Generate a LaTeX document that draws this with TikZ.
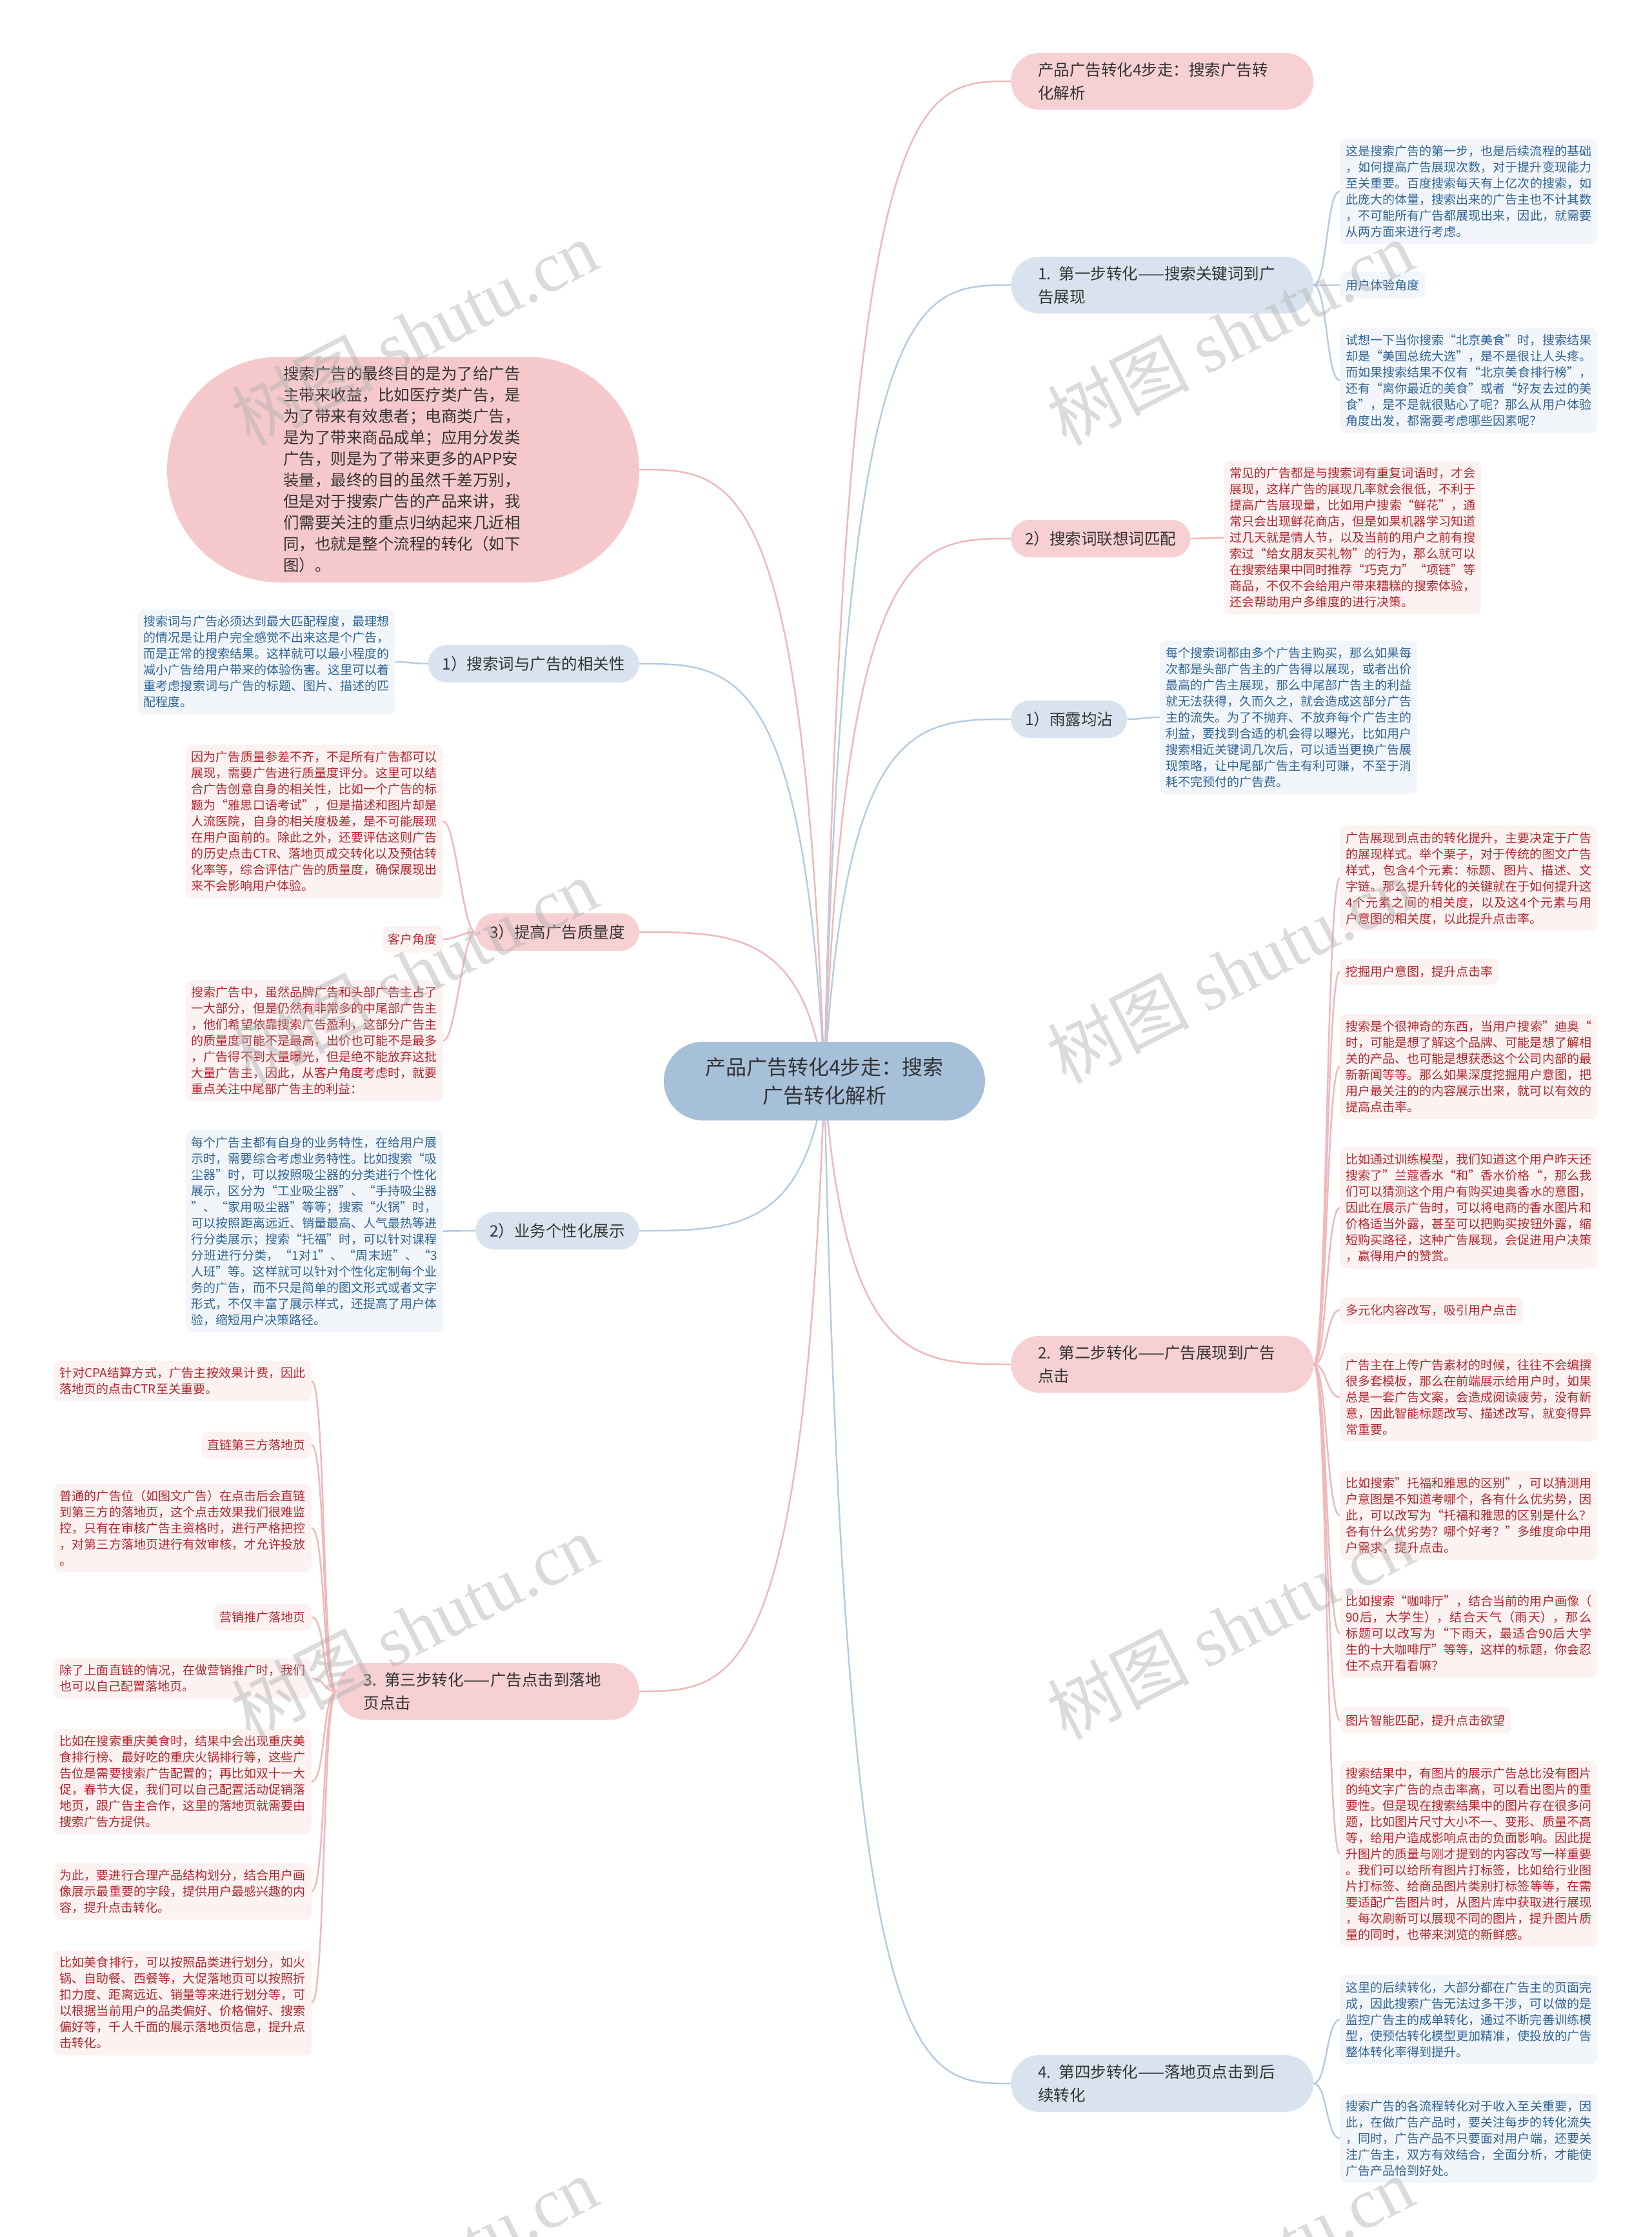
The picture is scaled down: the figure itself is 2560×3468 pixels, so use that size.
\documentclass[tikz,border=0pt]{standalone}
\usepackage{fontspec}
\setmainfont{Noto Sans CJK SC}
\newfontfamily\wmfont{Liberation Serif}
\usetikzlibrary{backgrounds}
\XeTeXlinebreaklocale "zh"
\XeTeXlinebreakskip=0pt plus 3pt
\tolerance=9500
\hbadness=10000
\hfuzz=20pt
\definecolor{cRoot}{HTML}{A6C0DA}
\definecolor{cPinkMain}{HTML}{F6D0D2}
\definecolor{cBlueMain}{HTML}{D8E3EF}
\definecolor{cOval}{HTML}{F5C9CC}
\definecolor{cPinkBg}{HTML}{FCF2F2}
\definecolor{cBlueBg}{HTML}{F2F6FB}
\definecolor{cRedTxt}{HTML}{B3262C}
\definecolor{cBlueTxt}{HTML}{2F6496}
\definecolor{cMainTxt}{HTML}{333333}
\definecolor{cPinkLn}{HTML}{F0B8BB}
\definecolor{cBlueLn}{HTML}{B5CCE2}
\definecolor{cWm}{HTML}{B0B0B0}
\newcommand\nl{\break}
\newcommand\fsBox{\fontsize{19pt}{25pt}\selectfont}
\newcommand\fsMain{\fontsize{24.5pt}{36pt}\selectfont}
\newcommand\fsRoot{\fontsize{32pt}{44pt}\selectfont}
\newcommand\fsOval{\fontsize{24.5pt}{33pt}\selectfont}
\begin{document}
\begin{tikzpicture}[x=1pt,y=-1pt,
  pinkline/.style={line width=2.5pt, draw=cPinkLn},
  blueline/.style={line width=2.5pt, draw=cBlueLn},
  rootnode/.style={fill=cRoot, rounded corners=61pt, minimum width=498pt, minimum height=122pt, inner sep=0pt, align=center, font=\fsRoot, text=cMainTxt},
  mainone/.style={rounded corners=29pt, inner xsep=22pt, inner ysep=0pt, minimum height=58pt, font=\fsMain, text=cMainTxt},
  maintwo/.style={rounded corners=44pt, inner xsep=42pt, inner ysep=0pt, minimum height=88pt, text width=385pt, align=left, font=\fsMain, text=cMainTxt},
  pinkfill/.style={fill=cPinkMain},
  bluefill/.style={fill=cBlueMain},
  txtbox/.style={rounded corners=10pt, inner xsep=9pt, inner ysep=10pt, text width=381pt, align=justify, font=\fsBox},
  tagbox/.style={rounded corners=10pt, inner xsep=9pt, inner ysep=0pt, minimum height=41pt, font=\fsBox},
  bluebox/.style={fill=cBlueBg, text=cBlueTxt},
  pinkbox/.style={fill=cPinkBg, text=cRedTxt},
  wmark/.style={rotate=27, text=cWm, opacity=0.45, font=\fontsize{110pt}{110pt}\selectfont, inner sep=0pt}
]
\useasboundingbox (0,0) rectangle (2560,3468);

% ---------- root ----------
\node[rootnode] (root) at (1278,1676) {产品广告转化4步走：搜索\\广告转化解析};

% ---------- right main nodes ----------
\node[maintwo, pinkfill, anchor=west] (mtop) at (1567,126) {产品广告转化4步走：搜索广告转\\化解析};
\node[maintwo, bluefill, anchor=west] (ms1) at (1567,442) {1. 第一步转化——搜索关键词到广\\告展现};
\node[mainone, pinkfill, anchor=west] (mlx) at (1567,835) {2）搜索词联想词匹配};
\node[mainone, bluefill, anchor=west] (mylj) at (1567,1115) {1）雨露均沾};
\node[maintwo, pinkfill, anchor=west] (ms2) at (1567,2115) {2. 第二步转化——广告展现到广告\\点击};
\node[maintwo, bluefill, anchor=west] (ms4) at (1567,3230) {4. 第四步转化——落地页点击到后\\续转化};

% ---------- left main nodes ----------
\node[fill=cOval, rounded corners=175pt, minimum width=732pt, minimum height=350pt, inner sep=0pt, text width=372pt, align=left, font=\fsOval, text=cMainTxt] (oval) at (625,728) {搜索广告的最终目的是为了给广告\\主带来收益，比如医疗类广告，是\\为了带来有效患者；电商类广告，\\是为了带来商品成单；应用分发类\\广告，则是为了带来更多的APP安\\装量，最终的目的虽然千差万别，\\但是对于搜索广告的产品来讲，我\\们需要关注的重点归纳起来几近相\\同，也就是整个流程的转化（如下\\图）。};
\node[mainone, bluefill, anchor=east] (mrel) at (991,1029) {1）搜索词与广告的相关性};
\node[mainone, pinkfill, anchor=east] (mq) at (991,1445) {3）提高广告质量度};
\node[mainone, bluefill, anchor=east] (mbz) at (991,1908) {2）业务个性化展示};
\node[maintwo, pinkfill, anchor=east] (ms3) at (991,2622) {3. 第三步转化——广告点击到落地\\页点击};

% ---------- step 1 children ----------
\node[txtbox, bluebox, anchor=west] (s1a) at (2077,296.5) {这是搜索广告的第一步，也是后续流程的基础\nl
，如何提高广告展现次数，对于提升变现能力\nl
至关重要。百度搜索每天有上亿次的搜索，如\nl
此庞大的体量，搜索出来的广告主也不计其数\nl
，不可能所有广告都展现出来，因此，就需要\nl
从两方面来进行考虑。};
\node[tagbox, bluebox, anchor=west] (s1b) at (2077,442) {用户体验角度};
\node[txtbox, bluebox, anchor=west] (s1c) at (2077,589.5) {试想一下当你搜索“北京美食”时，搜索结果\nl
却是“美国总统大选”，是不是很让人头疼。\nl
而如果搜索结果不仅有“北京美食排行榜”，\nl
还有“离你最近的美食”或者“好友去过的美\nl
食”，是不是就很贴心了呢？那么从用户体验\nl
角度出发，都需要考虑哪些因素呢？};

% ---------- lx child ----------
\node[txtbox, pinkbox, anchor=west] (lxa) at (1897,833.5) {常见的广告都是与搜索词有重复词语时，才会\nl
展现，这样广告的展现几率就会很低，不利于\nl
提高广告展现量，比如用户搜索“鲜花”，通\nl
常只会出现鲜花商店，但是如果机器学习知道\nl
过几天就是情人节，以及当前的用户之前有搜\nl
索过“给女朋友买礼物”的行为，那么就可以\nl
在搜索结果中同时推荐“巧克力”“项链”等\nl
商品，不仅不会给用户带来糟糕的搜索体验，\nl
还会帮助用户多维度的进行决策。};

% ---------- ylj child ----------
\node[txtbox, bluebox, anchor=west] (ylja) at (1798,1112) {每个搜索词都由多个广告主购买，那么如果每\nl
次都是头部广告主的广告得以展现，或者出价\nl
最高的广告主展现，那么中尾部广告主的利益\nl
就无法获得，久而久之，就会造成这部分广告\nl
主的流失。为了不抛弃、不放弃每个广告主的\nl
利益，要找到合适的机会得以曝光，比如用户\nl
搜索相近关键词几次后，可以适当更换广告展\nl
现策略，让中尾部广告主有利可赚，不至于消\nl
耗不完预付的广告费。};

% ---------- step 2 children ----------
\node[txtbox, pinkbox, anchor=west] (s2a) at (2077,1361.5) {广告展现到点击的转化提升，主要决定于广告\nl
的展现样式。举个栗子，对于传统的图文广告\nl
样式，包含4个元素：标题、图片、描述、文\nl
字链。那么提升转化的关键就在于如何提升这\nl
4个元素之间的相关度，以及这4个元素与用\nl
户意图的相关度，以此提升点击率。};
\node[tagbox, pinkbox, anchor=west] (s2b) at (2077,1506) {挖掘用户意图，提升点击率};
\node[txtbox, pinkbox, anchor=west] (s2c) at (2077,1653.5) {搜索是个很神奇的东西，当用户搜索”迪奥“\nl
时，可能是想了解这个品牌、可能是想了解相\nl
关的产品、也可能是想获悉这个公司内部的最\nl
新新闻等等。那么如果深度挖掘用户意图，把\nl
用户最关注的的内容展示出来，就可以有效的\nl
提高点击率。};
\node[txtbox, pinkbox, anchor=west] (s2d) at (2077,1872.5) {比如通过训练模型，我们知道这个用户昨天还\nl
搜索了”兰蔻香水“和”香水价格“，那么我\nl
们可以猜测这个用户有购买迪奥香水的意图，\nl
因此在展示广告时，可以将电商的香水图片和\nl
价格适当外露，甚至可以把购买按钮外露，缩\nl
短购买路径，这种广告展现，会促进用户决策\nl
，赢得用户的赞赏。};
\node[tagbox, pinkbox, anchor=west] (s2e) at (2077,2031) {多元化内容改写，吸引用户点击};
\node[txtbox, pinkbox, anchor=west] (s2f) at (2077,2166) {广告主在上传广告素材的时候，往往不会编撰\nl
很多套模板，那么在前端展示给用户时，如果\nl
总是一套广告文案，会造成阅读疲劳，没有新\nl
意，因此智能标题改写、描述改写，就变得异\nl
常重要。};
\node[txtbox, pinkbox, anchor=west] (s2g) at (2077,2349) {比如搜索”托福和雅思的区别”，可以猜测用\nl
户意图是不知道考哪个，各有什么优劣势，因\nl
此，可以改写为“托福和雅思的区别是什么？\nl
各有什么优劣势？哪个好考？”多维度命中用\nl
户需求，提升点击。};
\node[txtbox, pinkbox, anchor=west] (s2h) at (2077,2532) {比如搜索“咖啡厅”，结合当前的用户画像（\nl
90后，大学生），结合天气（雨天），那么\nl
标题可以改写为“下雨天，最适合90后大学\nl
生的十大咖啡厅”等等，这样的标题，你会忍\nl
住不点开看看嘛？};
\node[tagbox, pinkbox, anchor=west] (s2i) at (2077,2667) {图片智能匹配，提升点击欲望};
\node[txtbox, pinkbox, anchor=west] (s2j) at (2077,2874) {搜索结果中，有图片的展示广告总比没有图片\nl
的纯文字广告的点击率高，可以看出图片的重\nl
要性。但是现在搜索结果中的图片存在很多问\nl
题，比如图片尺寸大小不一、变形、质量不高\nl
等，给用户造成影响点击的负面影响。因此提\nl
升图片的质量与刚才提到的内容改写一样重要\nl
。我们可以给所有图片打标签，比如给行业图\nl
片打标签、给商品图片类别打标签等等，在需\nl
要适配广告图片时，从图片库中获取进行展现\nl
，每次刷新可以展现不同的图片，提升图片质\nl
量的同时，也带来浏览的新鲜感。};

% ---------- step 4 children ----------
\node[txtbox, bluebox, anchor=west] (s4a) at (2077,3131) {这里的后续转化，大部分都在广告主的页面完\nl
成，因此搜索广告无法过多干涉，可以做的是\nl
监控广告主的成单转化，通过不断完善训练模\nl
型，使预估转化模型更加精准，使投放的广告\nl
整体转化率得到提升。};
\node[txtbox, bluebox, anchor=west] (s4b) at (2077,3315) {搜索广告的各流程转化对于收入至关重要，因\nl
此，在做广告产品时，要关注每步的转化流失\nl
，同时，广告产品不只要面对用户端，还要关\nl
注广告主，双方有效结合，全面分析，才能使\nl
广告产品恰到好处。};

% ---------- left children ----------
\node[txtbox, bluebox, anchor=east] (rela) at (613,1026) {搜索词与广告必须达到最大匹配程度，最理想\nl
的情况是让用户完全感觉不出来这是个广告，\nl
而是正常的搜索结果。这样就可以最小程度的\nl
减小广告给用户带来的体验伤害。这里可以着\nl
重考虑搜索词与广告的标题、图片、描述的匹\nl
配程度。};
\node[txtbox, pinkbox, anchor=east] (qa) at (687,1273.5) {因为广告质量参差不齐，不是所有广告都可以\nl
展现，需要广告进行质量度评分。这里可以结\nl
合广告创意自身的相关性，比如一个广告的标\nl
题为“雅思口语考试”，但是描述和图片却是\nl
人流医院，自身的相关度极差，是不可能展现\nl
在用户面前的。除此之外，还要评估这则广告\nl
的历史点击CTR、落地页成交转化以及预估转\nl
化率等，综合评估广告的质量度，确保展现出\nl
来不会影响用户体验。};
\node[tagbox, pinkbox, anchor=east] (qb) at (687,1456) {客户角度};
\node[txtbox, pinkbox, anchor=east] (qc) at (687,1613.5) {搜索广告中，虽然品牌广告和头部广告主占了\nl
一大部分，但是仍然有非常多的中尾部广告主\nl
，他们希望依靠搜索广告盈利，这部分广告主\nl
的质量度可能不是最高，出价也可能不是最多\nl
，广告得不到大量曝光，但是绝不能放弃这批\nl
大量广告主，因此，从客户角度考虑时，就要\nl
重点关注中尾部广告主的利益：};
\node[txtbox, bluebox, anchor=east] (bza) at (687,1908.5) {每个广告主都有自身的业务特性，在给用户展\nl
示时，需要综合考虑业务特性。比如搜索“吸\nl
尘器”时，可以按照吸尘器的分类进行个性化\nl
展示，区分为“工业吸尘器”、“手持吸尘器\nl
”、“家用吸尘器”等等；搜索“火锅”时，\nl
可以按照距离远近、销量最高、人气最热等进\nl
行分类展示；搜索“托福”时，可以针对课程\nl
分班进行分类，“1对1”、“周末班”、“3\nl
人班”等。这样就可以针对个性化定制每个业\nl
务的广告，而不只是简单的图文形式或者文字\nl
形式，不仅丰富了展示样式，还提高了用户体\nl
验，缩短用户决策路径。};

% ---------- step 3 children ----------
\node[txtbox, pinkbox, anchor=east] (s3a) at (483,2141) {针对CPA结算方式，广告主按效果计费，因此\nl
落地页的点击CTR至关重要。};
\node[tagbox, pinkbox, anchor=east] (s3b) at (483,2240) {直链第三方落地页};
\node[txtbox, pinkbox, anchor=east] (s3c) at (483,2369) {普通的广告位（如图文广告）在点击后会直链\nl
到第三方的落地页，这个点击效果我们很难监\nl
控，只有在审核广告主资格时，进行严格把控\nl
，对第三方落地页进行有效审核，才允许投放\nl
。};
\node[tagbox, pinkbox, anchor=east] (s3d) at (483,2507) {营销推广落地页};
\node[txtbox, pinkbox, anchor=east] (s3e) at (483,2602) {除了上面直链的情况，在做营销推广时，我们\nl
也可以自己配置落地页。};
\node[txtbox, pinkbox, anchor=east] (s3f) at (483,2762) {比如在搜索重庆美食时，结果中会出现重庆美\nl
食排行榜、最好吃的重庆火锅排行等，这些广\nl
告位是需要搜索广告配置的；再比如双十一大\nl
促，春节大促，我们可以自己配置活动促销落\nl
地页，跟广告主合作，这里的落地页就需要由\nl
搜索广告方提供。};
\node[txtbox, pinkbox, anchor=east] (s3g) at (483,2932) {为此，要进行合理产品结构划分，结合用户画\nl
像展示最重要的字段，提供用户最感兴趣的内\nl
容，提升点击转化。};
\node[txtbox, pinkbox, anchor=east] (s3h) at (483,3105) {比如美食排行，可以按照品类进行划分，如火\nl
锅、自助餐、西餐等，大促落地页可以按照折\nl
扣力度、距离远近、销量等来进行划分等，可\nl
以根据当前用户的品类偏好、价格偏好、搜索\nl
偏好等，千人千面的展示落地页信息，提升点\nl
击转化。};

% ---------- connectors ----------
\begin{pgfonlayer}{background}
\fill[white] (0,0) rectangle (2560,3468);
% root to right main nodes
\draw[pinkline] (root.center) .. controls (1310,126) and (1420,126) .. (mtop.west);
\draw[blueline] (root.center) .. controls (1310,442) and (1420,442) .. (ms1.west);
\draw[pinkline] (root.center) .. controls (1310,835) and (1420,835) .. (mlx.west);
\draw[blueline] (root.center) .. controls (1310,1115) and (1420,1115) .. (mylj.west);
\draw[pinkline] (root.center) .. controls (1310,2115) and (1420,2115) .. (ms2.west);
\draw[blueline] (root.center) .. controls (1310,3230) and (1420,3230) .. (ms4.west);
% root to left main nodes
\draw[pinkline] (root.center) .. controls (1246,728) and (1136,728) .. (oval.east);
\draw[blueline] (root.center) .. controls (1246,1029) and (1136,1029) .. (mrel.east);
\draw[pinkline] (root.center) .. controls (1246,1445) and (1136,1445) .. (mq.east);
\draw[blueline] (root.center) .. controls (1246,1908) and (1136,1908) .. (mbz.east);
\draw[pinkline] (root.center) .. controls (1246,2622) and (1136,2622) .. (ms3.east);
% step 1
\foreach \c in {s1a,s1b,s1c}
  \draw[blueline] (ms1.east) .. controls +(21,0) and +(-21,0) .. (\c.west);
\draw[pinkline] (mlx.east) .. controls +(20,0) and +(-20,0) .. (lxa.west);
\draw[blueline] (mylj.east) .. controls +(20,0) and +(-20,0) .. (ylja.west);
\foreach \c in {s2a,s2b,s2c,s2d,s2e,s2f,s2g,s2h,s2i,s2j}
  \draw[pinkline] (ms2.east) .. controls +(21,0) and +(-21,0) .. (\c.west);
\foreach \c in {s4a,s4b}
  \draw[blueline] (ms4.east) .. controls +(21,0) and +(-21,0) .. (\c.west);
% left
\draw[blueline] (mrel.west) .. controls +(-20,0) and +(20,0) .. (rela.east);
\foreach \c in {qa,qb,qc}
  \draw[pinkline] (mq.west) .. controls +(-20,0) and +(20,0) .. (\c.east);
\draw[blueline] (mbz.west) .. controls +(-20,0) and +(20,0) .. (bza.east);
\foreach \c in {s3a,s3b,s3c,s3d,s3e,s3f,s3g,s3h}
  \draw[pinkline] (ms3.west) .. controls +(-22,0) and +(22,0) .. (\c.east);
\end{pgfonlayer}

% ---------- watermarks ----------
\foreach \wx/\wy [count=\i] in {642/516, 1907/516, 642/1505, 1907/1505, 642/2522, 1907/2522, 642/3518, 1907/3518}
  \node[wmark] (wm\i) at (\wx,\wy) {树图 {\wmfont shutu.cn}};
\end{tikzpicture}
\end{document}
